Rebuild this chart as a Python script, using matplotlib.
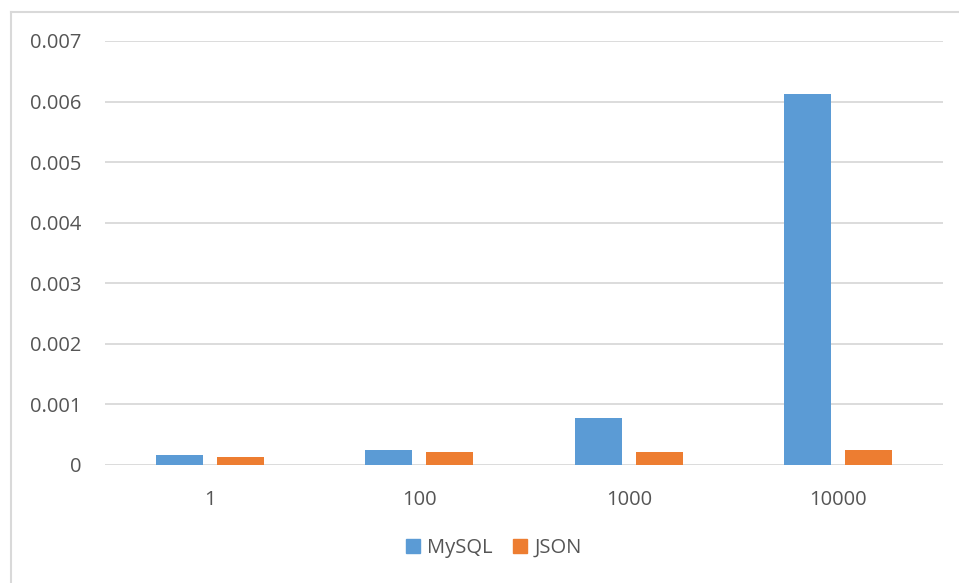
import matplotlib
matplotlib.use("Agg")
import matplotlib.pyplot as plt
import numpy as np
from matplotlib.lines import Line2D
from matplotlib.patches import Patch

categories = ["1", "100", "1000", "10000"]
mysql = [0.00017, 0.00024, 0.00077, 0.00612]
json_vals = [0.00014, 0.00021, 0.00021, 0.00024]
yticks = [0, 0.001, 0.002, 0.003, 0.004, 0.005, 0.006, 0.007]
ytick_labels = ["0", "0.001", "0.002", "0.003", "0.004", "0.005", "0.006", "0.007"]

blue = "#5B9BD5"
orange = "#ED7D31"
text_color = "#555555"
grid_color = "#D9D9D9"

plt.rcParams['font.family'] = ['Open Sans', 'DejaVu Sans']

fig = plt.figure(figsize=(9.59, 5.83), dpi=100)
ax = fig.add_axes([105/959, 1-465/583, (943-105)/959, (465-41)/583])

x = np.arange(len(categories))
w = 0.224
ax.bar(x - 0.145, mysql, width=w, color=blue, zorder=3)
ax.bar(x + 0.145, json_vals, width=w, color=orange, zorder=3)

ax.set_xlim(-0.5, len(categories) - 0.5)
ax.set_ylim(0, 0.007)
ax.set_yticks(yticks)
ax.set_yticklabels(ytick_labels)
ax.set_xticks(x)
ax.set_xticklabels(categories)
ax.tick_params(axis='both', length=0, labelsize=14.5, colors=text_color)
ax.tick_params(axis='y', pad=17)
ax.tick_params(axis='x', pad=18)
ax.grid(axis='y', color=grid_color, linewidth=1.3, zorder=0)
for s in ax.spines.values():
    s.set_visible(False)

# outer chart border (top and left visible)
fig.add_artist(Line2D([11/959, 11/959], [0, 1-12/583], transform=fig.transFigure, color=grid_color, linewidth=1.5))
fig.add_artist(Line2D([11/959, 1], [1-12/583, 1-12/583], transform=fig.transFigure, color=grid_color, linewidth=1.5))

handles = [Patch(color=blue, label="MySQL"), Patch(color=orange, label="JSON")]
fig.legend(handles=handles, loc='center', bbox_to_anchor=(494/959, 1-548/583), ncol=2,
           frameon=False, fontsize=14.5, labelcolor=text_color, handlelength=0.7, handleheight=0.7,
           handletextpad=0.35, columnspacing=1.0)

fig.savefig("out.png", dpi=100)
